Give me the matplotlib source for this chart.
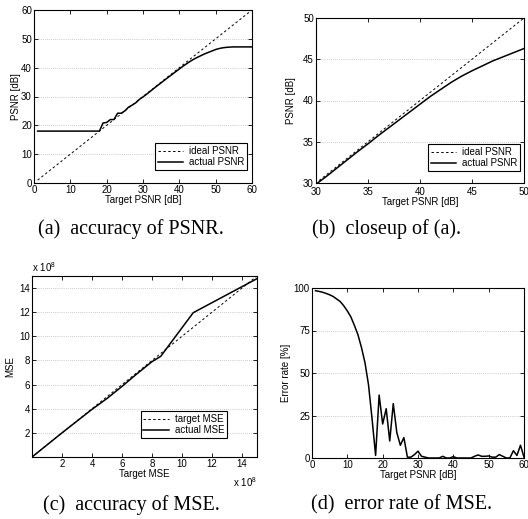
import matplotlib
matplotlib.use('Agg')
import matplotlib.pyplot as plt

plt.rcParams['font.family'] = ['Liberation Sans', 'DejaVu Sans']
plt.rcParams['font.size'] = 7
plt.rcParams['mathtext.fontset'] = 'custom'
plt.rcParams['mathtext.rm'] = 'Liberation Sans'

# target PSNR [dB] and measured PSNR
target_psnr = list(range(1, 61))
actual_psnr = [18.0] * 18 + [
    20.8, 21.0, 22.0, 22.0, 24.2, 24.2, 25.0, 26.3, 27.0, 27.8,
    29.0, 29.85, 30.8, 31.8, 32.8, 33.8, 34.75, 35.75, 36.7, 37.65,
    38.6, 39.55, 40.5, 41.35, 42.2, 42.95, 43.6, 44.2, 44.8, 45.3,
    45.8, 46.3, 46.65, 46.9, 47.05, 47.15, 47.2, 47.2, 47.2, 47.2,
    47.2, 47.2]

# MSE (x 1e8)
target_mse = [0, 15]
mse_x = [0, 2, 4, 5, 6, 7, 8, 8.58, 10.75, 15.0]
mse_y = [0, 2, 3.95, 4.85, 5.85, 6.9, 7.9, 8.34, 11.96, 14.78]

# error rate of MSE [%]
error_rate = [
    98.4, 98.0, 97.5, 96.8, 96.0, 95.0, 93.5, 92.0, 89.5, 86.5,
    83.0, 78.0, 72.5, 65.0, 56.0, 43.0, 23.0, 1.5, 37.0, 20.0,
    29.0, 10.0, 32.0, 15.0, 7.5, 12.0, 0.5, 0.5, 2.0, 4.0,
    1.0, 0.5, 0.0, 0.0, 0.0, 0.0, 1.0, 0.0, 0.0, 0.8,
    0.0, 0.0, 0.0, 0.0, 0.0, 1.0, 1.8, 1.0, 1.0, 1.2,
    0.5, 0.5, 2.0, 1.0, 0.0, 0.0, 4.3, 1.5, 7.5, 0.5]

fig = plt.figure(figsize=(5.28, 5.19), dpi=100)
W, H = 528, 519


def make_ax(l, t, r, b):
    ax = fig.add_axes([l / W, 1 - b / H, (r - l) / W, (b - t) / H])
    ax.tick_params(direction='in', top=True, right=True, length=3, width=0.6,
                   labelsize=7, pad=1.5)
    ax.yaxis.grid(True, linestyle=(0, (1, 2)), color='#999999', linewidth=0.5)
    ax.set_axisbelow(True)
    for s in ax.spines.values():
        s.set_linewidth(0.8)
    return ax


def legend(ax, labels, anchor):
    leg = ax.legend(labels, loc='lower right', bbox_to_anchor=anchor,
                    borderaxespad=0, fontsize=7, handlelength=2.6,
                    handletextpad=0.6, labelspacing=0.1, borderpad=0.3,
                    fancybox=False, framealpha=1, edgecolor='black')
    leg.get_frame().set_linewidth(0.8)


# (a)
ax = make_ax(34, 10, 252, 183)
ax.plot(target_psnr, target_psnr, 'k--', lw=0.7, dashes=(2.5, 2.5))
ax.plot(target_psnr, actual_psnr, 'k-', lw=1.1)
ax.set_xlim(0, 60)
ax.set_ylim(0, 60)
ax.set_xticks(range(0, 61, 10))
ax.set_yticks(range(0, 61, 10))
ax.set_xlabel('Target PSNR [dB]', labelpad=0)
ax.set_ylabel('PSNR [dB]', labelpad=0)
legend(ax, ['ideal PSNR', 'actual PSNR'], (0.977, 0.075))

# (b)
ax = make_ax(316, 18, 524, 183)
ax.plot(target_psnr, target_psnr, 'k--', lw=0.7, dashes=(2.5, 2.5))
ax.plot(target_psnr, actual_psnr, 'k-', lw=1.1)
ax.set_xlim(30, 50)
ax.set_ylim(30, 50)
ax.set_xticks(range(30, 51, 5))
ax.set_yticks(range(30, 51, 5))
ax.tick_params(axis='x', pad=3)
ax.set_xlabel('Target PSNR [dB]', labelpad=0)
ax.set_ylabel('PSNR [dB]', labelpad=5)
legend(ax, ['ideal PSNR', 'actual PSNR'], (0.981, 0.073))

# (c)
ax = make_ax(32, 276, 257, 457)
ax.plot(target_mse, target_mse, 'k--', lw=0.7, dashes=(2.5, 2.5))
ax.plot(mse_x, mse_y, 'k-', lw=1.1)
ax.set_xlim(0, 15)
ax.set_ylim(0, 15)
ax.set_xticks(range(2, 15, 2))
ax.set_yticks(range(2, 15, 2))
ax.set_xlabel('Target MSE', labelpad=0)
ax.set_ylabel('MSE', labelpad=3)
ax.text(0, 1.01, r'x 10$^{8}$', transform=ax.transAxes, fontsize=7,
        ha='left', va='bottom')
ax.text(1.0, -0.1, r'x 10$^{8}$', transform=ax.transAxes, fontsize=7,
        ha='right', va='top')
legend(ax, ['target MSE', 'actual MSE'], (0.867, 0.105))

# (d)
ax = make_ax(312, 288, 524, 458)
ax.plot(target_psnr, error_rate, 'k-', lw=1.1)
ax.set_xlim(0, 60)
ax.set_ylim(0, 100)
ax.set_xticks(range(0, 61, 10))
ax.set_yticks([0, 25, 50, 75, 100])
ax.set_xlabel('Target PSNR [dB]', labelpad=0)
ax.set_ylabel('Error rate [%]', labelpad=2)

# captions
cap = dict(family=['Liberation Serif', 'DejaVu Serif'], fontsize=14.5,
           ha='center', va='center')
fig.text(131 / W, 1 - 229 / H, '(a)  accuracy of PSNR.', **cap)
fig.text(387 / W, 1 - 229 / H, '(b)  closeup of (a).', **cap)
fig.text(131 / W, 1 - 505 / H, '(c)  accuracy of MSE.', **cap)
fig.text(402 / W, 1 - 505 / H, '(d)  error rate of MSE.', **cap)

fig.savefig('out.png', dpi=100)
